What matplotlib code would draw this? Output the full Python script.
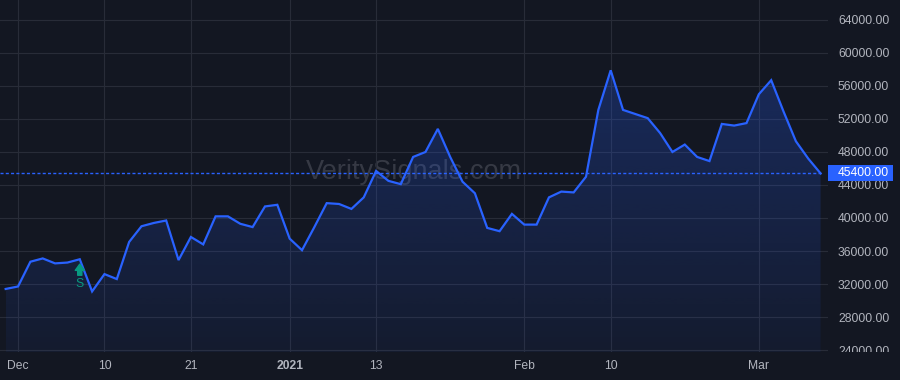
import matplotlib
matplotlib.use('Agg')
import matplotlib.pyplot as plt
import matplotlib.transforms as mtransforms
from matplotlib.patches import Polygon, Rectangle
import numpy as np
import pandas as pd

plt.rcParams['font.family'] = ['Liberation Sans', 'DejaVu Sans']

# trading days Nov 30 2020 .. Mar 8 2021 (US market holidays removed)
holidays = ['2020-12-25', '2021-01-01', '2021-01-18', '2021-02-15']
dates = pd.bdate_range('2020-11-30', '2021-03-08')
dates = dates[~dates.isin(pd.to_datetime(holidays))]

prices = [31400, 31700, 34700, 35100, 34500, 34600, 35000, 31100, 33200, 32600,
          37100, 39000, 39400, 39700, 34900, 37700, 36800, 40200, 40200, 39300,
          38900, 41400, 41600, 37500, 36100, 38900, 41800, 41700, 41100, 42500,
          45700, 44500, 44100, 47400, 48000, 50800, 47400, 44400, 43000, 38800,
          38400, 40500, 39200, 39200, 42500, 43200, 43100, 45000, 53100, 57900,
          53100, 52600, 52100, 50300, 48000, 48900, 47400, 46900, 51400, 51200,
          51500, 55000, 56700, 52900, 49300, 47200, 45400]

tick_dates = ['2020-12-01', '2020-12-10', '2020-12-21', '2021-01-04',
              '2021-01-13', '2021-02-01', '2021-02-10', '2021-03-01']
tick_labels = ['Dec', '10', '21', '2021', '13', 'Feb', '10', 'Mar']
bold_labels = ['2021']

y_ticks = np.arange(24000, 64001, 4000)
signal_date = '2020-12-08'
signal_text = 'S'
last_price = 45400
watermark = 'VeritySignals.com'

bg = '#131722'
grid_c = '#282c38'
line_c = '#2962ff'
text_c = '#b2b5be'
sig_c = '#089981'

fig = plt.figure(figsize=(9, 3.8), dpi=100, facecolor=bg)
ax = fig.add_axes([0, 28/380, 828/900, 352/380])
ax.set_facecolor(bg)

xi = np.arange(len(prices))
ax.set_xlim(-0.46, 66.6)
ax.set_ylim(23760, 66420)
y0, y1 = ax.get_ylim()

# gradient area under the line
verts = [(xi[0], y0)] + list(zip(xi, prices)) + [(xi[-1], y0)]
poly = Polygon(verts, closed=True, facecolor='none', edgecolor='none')
ax.add_patch(poly)
alphas = np.linspace(0.06, 0.26, 256)
grad = np.zeros((256, 1, 4))
grad[:, 0, 0] = 41/255
grad[:, 0, 1] = 98/255
grad[:, 0, 2] = 1.0
grad[:, 0, 3] = alphas
im = ax.imshow(grad, extent=[xi[0], xi[-1], y0, max(prices)], aspect='auto',
               origin='lower', zorder=1, interpolation='bilinear')
im.set_clip_path(poly)

ax.plot(xi, prices, color=line_c, lw=1.6, zorder=3, solid_joinstyle='miter')

# last price dotted line
ax.hlines(last_price, ax.get_xlim()[0], xi[-1], colors=line_c,
          linestyles=(0, (2.2, 1.6)), lw=1.0, zorder=2)

# watermark
ax.text(0.5, 0.51, watermark, transform=ax.transAxes, ha='center', va='center',
        fontsize=19.5, color='#787b86', alpha=0.35, zorder=0.5)

# grid / ticks
ax.set_yticks(y_ticks)
ax.set_yticklabels([f'{v:.2f}' for v in y_ticks])
ax.yaxis.tick_right()
pos = [dates.get_loc(pd.Timestamp(d)) for d in tick_dates]
ax.set_xticks(pos)
ax.set_xticklabels(tick_labels)
for lab in ax.get_xticklabels():
    if lab.get_text() in bold_labels:
        lab.set_fontweight('bold')
ax.tick_params(axis='y', length=0, pad=7.2, labelsize=8.7, labelcolor=text_c)
ax.tick_params(axis='x', length=0, pad=6, labelsize=8.7, labelcolor=text_c)
ax.grid(True, color=grid_c, lw=0.8, zorder=0)
ax.set_axisbelow(True)
for s in ax.spines.values():
    s.set_visible(False)

clip = mtransforms.TransformedBbox(mtransforms.Bbox([[1.0, 0.0], [1.2, 1.0]]), ax.transAxes)
for t in ax.yaxis.get_major_ticks():
    t.label2.set_clip_box(clip)
    t.label2.set_clip_on(True)

# signal marker
si = dates.get_loc(pd.Timestamp(signal_date))
ax.annotate('', xy=(si, prices[si]), xytext=(0, -16), textcoords='offset pixels',
            arrowprops=dict(arrowstyle='simple,head_length=0.45,head_width=0.65,tail_width=0.3',
                            color=sig_c, shrinkA=0, shrinkB=3.5), zorder=4)
ax.annotate(signal_text, xy=(si, prices[si]), xytext=(0, -25), textcoords='offset pixels',
            ha='center', va='center', fontsize=8.7, color=sig_c, zorder=4)

# last price label on scale
blend = mtransforms.blended_transform_factory(ax.transAxes, ax.transData)
h = 16 / 352 * (y1 - y0)
ax.add_patch(Rectangle((1.0, last_price - h/2), 65/828, h, transform=blend,
                       facecolor=line_c, edgecolor='none', clip_on=False, zorder=5))
ax.text(838/828, last_price, f'{last_price:.2f}', transform=blend, ha='left', va='center',
        fontsize=8.7, color='white', clip_on=False, zorder=6)

plt.savefig('out.png', dpi=100, facecolor=bg)
